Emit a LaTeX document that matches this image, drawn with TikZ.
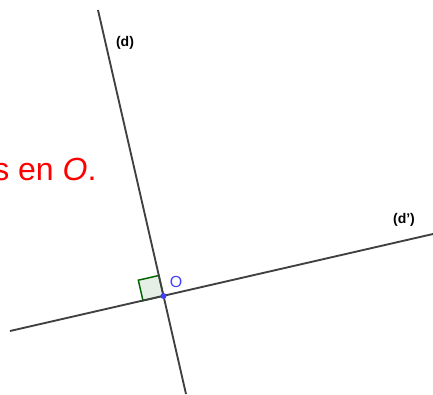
\documentclass[tikz,border=0pt]{standalone}
\usepackage{fontspec}
\setmainfont{Liberation Sans}
\usepackage{xcolor}
\usetikzlibrary{positioning}
\definecolor{trait}{RGB}{64,64,64}
\definecolor{ptbleu}{RGB}{64,64,255}
\definecolor{angvert}{RGB}{0,100,0}
\tikzset{
  droite/.style={draw=trait, line width=1.4pt},
  lbl/.style={font=\bfseries\fontsize{10.5}{12}\selectfont, inner sep=0pt},
  ptlbl/.style={text=ptbleu, font=\fontsize{12}{14}\selectfont, inner sep=0pt},
  angdroit/.style={draw=angvert, line width=1.1pt, fill=angvert!10},
  titre/.style={text=red, font=\fontsize{24}{28}\selectfont, inner sep=0pt, anchor=base west},
}
\begin{document}
\begin{tikzpicture}[x=0.75pt, y=-0.75pt]
  \useasboundingbox (0,0) rectangle (433,394);
  \coordinate (d1) at (98,10);
  \coordinate (d2) at (186,394);
  \coordinate (e1) at (10,331);
  \coordinate (e2) at (433,234);
  \coordinate (O) at (163.5,296);
  % angle droit
  \draw[angdroit] (O) -- ++(-4.7,-20.5) -- ++(-20.5,4.7) -- ++(4.7,20.5) -- cycle;
  \draw[droite] (d1) -- (d2);
  \draw[droite] (e1) -- (e2);
  \fill[ptbleu] (O) circle (3);
  \node[ptlbl, anchor=center] (lO) at (176,282) {O};
  \node[lbl] (ld) at (125,43) {(d)};
  \node[lbl] (ldp) at (404,220) {(d')};
  \node[titre] (txt) at (-7,180) {s en \textit{O}.};
\end{tikzpicture}
\end{document}
